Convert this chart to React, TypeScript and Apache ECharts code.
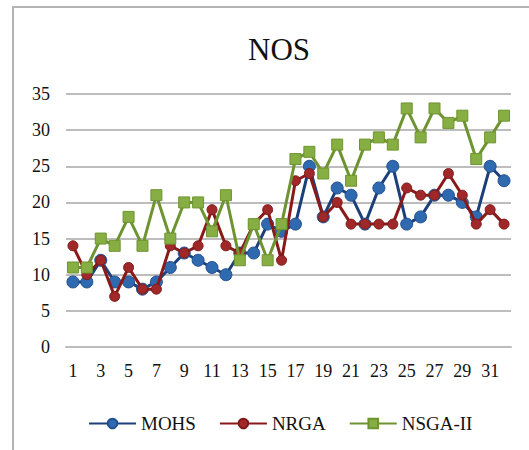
import React, { useEffect, useRef } from "react";
import * as echarts from "echarts";

const categories = Array.from({ length: 32 }, (_, i) => String(i + 1));
const mohs = [9, 9, 12, 9, 9, 8, 9, 11, 13, 12, 11, 10, 13, 13, 17, 16, 17, 25, 18, 22, 21, 17, 22, 25, 17, 18, 21, 21, 20, 18, 25, 23];
const nrga = [14, 10, 12, 7, 11, 8, 8, 14, 13, 14, 19, 14, 13, 17, 19, 12, 23, 24, 18, 20, 17, 17, 17, 17, 22, 21, 21, 24, 21, 17, 19, 17];
const nsga = [11, 11, 15, 14, 18, 14, 21, 15, 20, 20, 16, 21, 12, 17, 12, 17, 26, 27, 24, 28, 23, 28, 29, 28, 33, 29, 33, 31, 32, 26, 29, 32];

const FONT = "serif";

export default function App() {
  const ref = useRef<HTMLDivElement>(null);
  useEffect(() => {
    if (!ref.current) return;
    const chart = echarts.init(ref.current, undefined, { renderer: "svg" });
    chart.setOption({
      animation: false,
      backgroundColor: "#ffffff",
      textStyle: { fontFamily: FONT },
      title: {
        text: "NOS",
        left: 243,
        top: 29,
        textStyle: { fontFamily: FONT, fontSize: 31, fontWeight: "normal", color: "#111" },
      },
      legend: {
        left: 83,
        top: 409,
        itemWidth: 47,
        itemHeight: 12,
        itemGap: 23,
        textStyle: { fontFamily: FONT, fontSize: 19, color: "#111" },
        data: ["MOHS", "NRGA", "NSGA-II"],
      },
      graphic: [
        {
          type: "rect",
          shape: { x: 13, y: 7, width: 600, height: 600 },
          style: { fill: "none", stroke: "#B4B4B4", lineWidth: 2 },
          silent: true,
        },
      ],
      grid: { left: 66, right: 18, top: 94, bottom: 103 },
      xAxis: {
        type: "category",
        data: categories,
        boundaryGap: true,
        axisLine: { show: true, lineStyle: { color: "#BDBDBD", width: 2 } },
        axisTick: { show: false },
        axisLabel: { interval: 1, fontFamily: FONT, fontSize: 18, color: "#111", margin: 15 },
      },
      yAxis: {
        type: "value",
        min: 0,
        max: 35,
        interval: 5,
        axisLine: { show: false },
        axisTick: { show: false },
        splitLine: { lineStyle: { color: "#BDBDBD", width: 2 } },
        axisLabel: { fontFamily: FONT, fontSize: 18, color: "#111", margin: 16 },
      },
      series: [
        {
          name: "MOHS",
          type: "line",
          data: mohs,
          symbol: "circle",
          symbolSize: 12,
          showAllSymbol: true,
          lineStyle: { color: "#1C3F7A", width: 3 },
          itemStyle: { color: "#2F69B0", borderColor: "#22508F", borderWidth: 1 },
          z: 2,
        },
        {
          name: "NRGA",
          type: "line",
          data: nrga,
          symbol: "circle",
          symbolSize: 10,
          showAllSymbol: true,
          lineStyle: { color: "#8A1A1A", width: 3 },
          itemStyle: { color: "#A02828", borderColor: "#7E1A1A", borderWidth: 1 },
          z: 3,
        },
        {
          name: "NSGA-II",
          type: "line",
          data: nsga,
          symbol: "rect",
          symbolSize: 11,
          showAllSymbol: true,
          lineStyle: { color: "#6E9431", width: 3 },
          itemStyle: { color: "#87AE42", borderColor: "#6E9431", borderWidth: 1 },
          z: 4,
        },
      ],
    });
    return () => chart.dispose();
  }, []);
  return (
    <div
      ref={ref}
      style={{ position: "fixed", left: 0, top: 0, width: 529, height: 450 }}
    />
  );
}
